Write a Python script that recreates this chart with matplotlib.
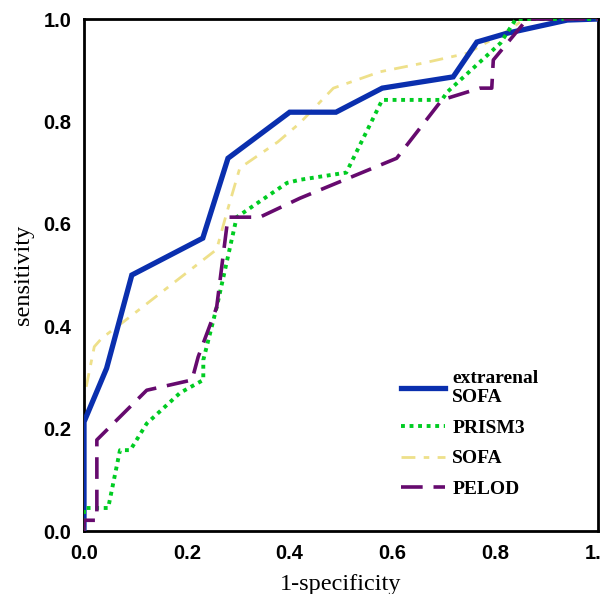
import matplotlib
matplotlib.use('Agg')
import matplotlib.pyplot as plt

# ROC curves
ext_sofa_x = [0.0, 0.0, 0.044, 0.093, 0.231, 0.28, 0.40, 0.49, 0.58, 0.718, 0.764, 0.822, 0.94, 1.0]
ext_sofa_y = [0.0, 0.213, 0.318, 0.50, 0.572, 0.728, 0.818, 0.818, 0.865, 0.887, 0.955, 0.972, 0.998, 1.0]

prism3_x = [0.0, 0.0, 0.047, 0.07, 0.09, 0.122, 0.187, 0.232, 0.232, 0.258, 0.297, 0.395, 0.42, 0.51,
            0.58, 0.696, 0.706, 0.81, 0.84, 1.0]
prism3_y = [0.0, 0.045, 0.045, 0.158, 0.158, 0.21, 0.27, 0.295, 0.334, 0.437, 0.613, 0.68, 0.686, 0.70,
            0.842, 0.842, 0.857, 0.953, 1.0, 1.0]

sofa_x = [0.0, 0.0, 0.02, 0.035, 0.076, 0.258, 0.278, 0.303, 0.377, 0.42, 0.485, 0.576, 0.66, 0.745,
          0.83, 0.855, 1.0]
sofa_y = [0.0, 0.26, 0.36, 0.377, 0.408, 0.55, 0.623, 0.709, 0.76, 0.797, 0.865, 0.897, 0.914, 0.933,
          0.98, 1.0, 1.0]

pelod_x = [0.0, 0.0, 0.025, 0.025, 0.122, 0.21, 0.222, 0.258, 0.28, 0.342, 0.42, 0.608, 0.696, 0.77,
           0.793, 0.796, 0.862, 1.0]
pelod_y = [0.0, 0.021, 0.021, 0.178, 0.275, 0.295, 0.34, 0.437, 0.613, 0.613, 0.65, 0.728, 0.842, 0.865,
           0.865, 0.92, 1.0, 1.0]

labels = ['extrarenal\nSOFA', 'PRISM3', 'SOFA', 'PELOD']
ticks = [0.0, 0.2, 0.4, 0.6, 0.8, 1.0]

fig = plt.figure(figsize=(6, 5.94), dpi=100)
ax = fig.add_axes([0.14, 0.106, 0.857, 0.862])

ax.plot(ext_sofa_x, ext_sofa_y, color='#0a2fae', lw=3.8, solid_joinstyle='miter', label=labels[0], zorder=3)
ax.plot(prism3_x, prism3_y, color='#00cc22', lw=2.8, linestyle=(0, (1, 1.2)), label=labels[1], zorder=4)
ax.plot(sofa_x, sofa_y, color='#eee08a', lw=2.0, linestyle=(0, (5, 3, 2, 3)), label=labels[2], zorder=2)
ax.plot(pelod_x, pelod_y, color='#660a6e', lw=2.6, linestyle=(0, (6, 3)), label=labels[3], zorder=5)

ax.set_xlim(0, 1)
ax.set_ylim(0, 1)
ax.set_xticks(ticks)
ax.set_yticks(ticks)
tick_font = dict(fontfamily='Liberation Sans', fontweight='bold', fontsize=14.5)
ax.set_xticklabels(['%.1f' % t for t in ticks], **tick_font)
ax.set_yticklabels(['%.1f' % t for t in ticks], **tick_font)
ax.tick_params(axis='x', length=0, pad=9)
ax.tick_params(axis='y', length=0, pad=9)
for s in ax.spines.values():
    s.set_linewidth(2)

ax.set_xlabel('1-specificity', fontfamily='Liberation Serif', fontsize=17.5, labelpad=8)
ax.set_ylabel('sensitivity', fontfamily='Liberation Serif', fontsize=17.5, labelpad=7)

leg = ax.legend(loc='lower left', bbox_to_anchor=(0.616, 0.065), frameon=False, handlelength=2.3,
                handletextpad=0.35, labelspacing=0.66, borderpad=0, borderaxespad=0,
                prop={'family': 'Liberation Serif', 'weight': 'bold', 'size': 14})

fig.savefig('out.png', dpi=100)
